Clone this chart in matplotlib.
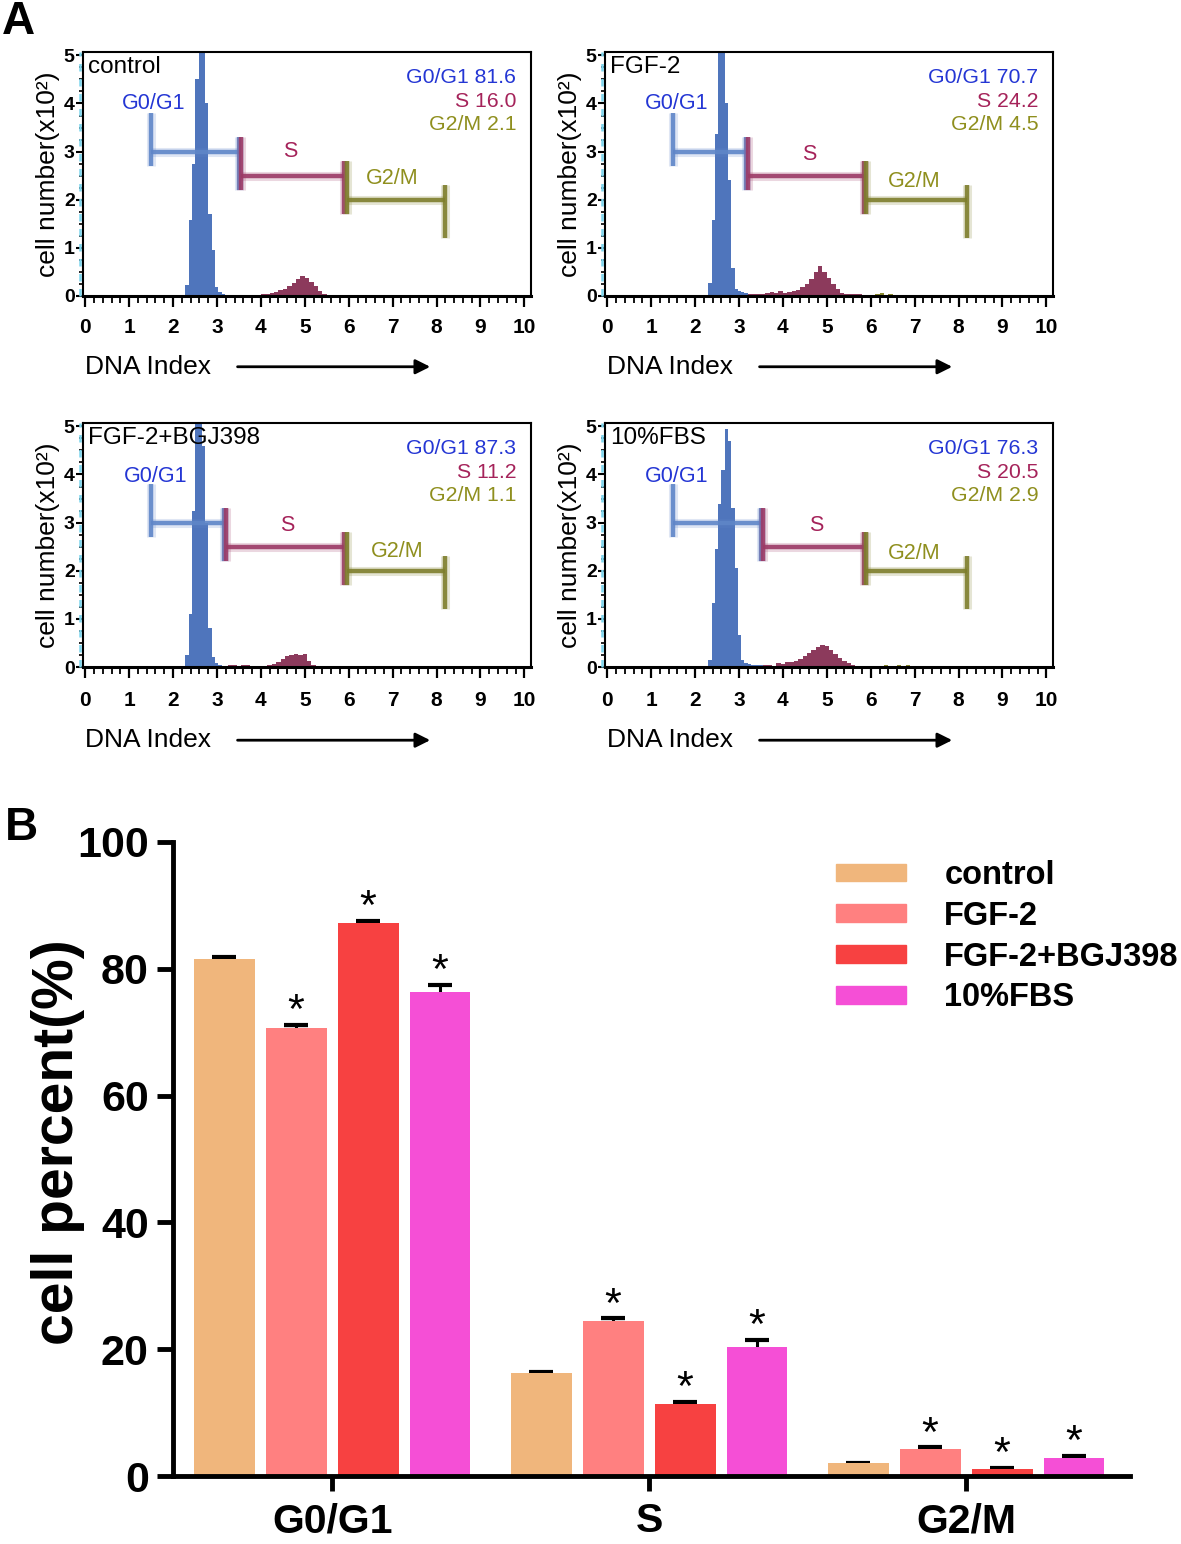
import numpy as np
import matplotlib
matplotlib.use('Agg')
import matplotlib.pyplot as plt
from matplotlib.ticker import MultipleLocator
from matplotlib.patches import Patch

plt.rcParams['font.family'] = ['Liberation Sans', 'DejaVu Sans']

# ---------------- data: panel A (DNA histograms) ----------------
panel_names = ['control', 'FGF-2', 'FGF-2+BGJ398', '10%FBS']
g1_pct = [81.6, 70.7, 87.3, 76.3]
s_pct = [16.0, 24.2, 11.2, 20.5]
g2m_pct = [2.1, 4.5, 1.1, 2.9]

# G0/G1 peak counts (x10^2), bins of 0.075 DNA index
g1_start = [2.28, 2.30, 2.28, 2.30]
g1_counts_control = [0.23, 1.57, 2.75, 4.5, 5.3, 5.3, 4.0, 1.7, 0.95, 0.19, 0.08, 0.04, 0.03, 0.03, 0.02, 0.03]
g1_counts_fgf2 = [0.27, 1.57, 3.37, 5.3, 5.3, 4.0, 2.4, 0.58, 0.15, 0.1, 0.08, 0.06]
g1_counts_bgj = [0.25, 1.1, 3.25, 5.3, 5.3, 4.6, 3.0, 0.8, 0.2, 0.08, 0.05, 0.03]
g1_counts_fbs = [0.15, 1.34, 2.46, 3.38, 4.1, 4.94, 4.7, 3.3, 2.06, 0.66, 0.15, 0.08, 0.06, 0.05, 0.05, 0.04, 0.04]

# S phase counts, bins of 0.1
s_start = [3.5, 3.2, 3.25, 3.55]
s_counts_control = [0.03, 0.03, 0.0, 0.0, 0.03, 0.04, 0.05, 0.06, 0.08, 0.12, 0.15, 0.2, 0.28, 0.36, 0.42, 0.38, 0.3, 0.2, 0.1, 0.04, 0.01]
s_counts_fgf2 = [0.05, 0.05, 0.04, 0.05, 0.06, 0.08, 0.06, 0.1, 0.06, 0.08, 0.1, 0.13, 0.18, 0.25, 0.35, 0.5, 0.62, 0.5, 0.38, 0.25, 0.15, 0.07, 0.04, 0.04, 0.04, 0.04, 0.03]
s_counts_bgj = [0.04, 0.04, 0.0, 0.04, 0.04, 0.0, 0.0, 0.0, 0.02, 0.04, 0.06, 0.1, 0.16, 0.22, 0.25, 0.27, 0.25, 0.28, 0.12, 0.05, 0.02]
s_counts_fbs = [0.04, 0.05, 0.03, 0.08, 0.06, 0.1, 0.1, 0.12, 0.16, 0.22, 0.3, 0.36, 0.42, 0.46, 0.44, 0.36, 0.26, 0.18, 0.12, 0.08, 0.05, 0.03]

# G2/M counts, bins of 0.1 from 5.9
g2m_counts_control = [0.01, 0.01]
g2m_counts_fgf2 = [0.03, 0.0, 0.05, 0.06, 0.03, 0.04, 0.0, 0.03, 0.0, 0.02, 0.0, 0.0, 0.0, 0.0, 0.02]
g2m_counts_bgj = [0.0]
g2m_counts_fbs = [0.02, 0.0, 0.03, 0.0, 0.04, 0.0, 0.03, 0.04, 0.02, 0.05, 0.03, 0.0, 0.02]

# gate ranges (DNA index)
g1_gate = [(1.5, 3.5), (1.5, 3.15), (1.5, 3.15), (1.5, 3.5)]
s_gate = [(3.55, 5.9), (3.2, 5.85), (3.2, 5.9), (3.55, 5.85)]
g2m_gate = [(5.95, 8.2), (5.9, 8.2), (5.95, 8.2), (5.9, 8.2)]

# ---------------- data: panel B (bar chart) ----------------
phases = ['G0/G1', 'S', 'G2/M']
groups = ['control', 'FGF-2', 'FGF-2+BGJ398', '10%FBS']
control_pct = [81.6, 16.2, 2.0]
fgf2_pct = [70.7, 24.5, 4.3]
bgj_pct = [87.3, 11.4, 1.1]
fbs_pct = [76.3, 20.4, 2.9]
control_err = [0.25, 0.2, 0.1]
fgf2_err = [0.4, 0.35, 0.2]
bgj_err = [0.3, 0.3, 0.2]
fbs_err = [1.2, 1.0, 0.3]
significant = [False, True, True, True]

# ---------------- figure ----------------
W, H = 1181, 1544
fig = plt.figure(figsize=(W / 100, H / 100), dpi=100)


def px_axes(l, t, r, b):
    return fig.add_axes([l / W, 1 - b / H, (r - l) / W, (b - t) / H])


blue = '#4F75BC'
maroon = '#8C3A5C'
olive = '#8A8A2E'
gate_blue = '#5F86C8'
gate_maroon = '#9C3A66'
gate_olive = '#7E7E2C'
txt_blue = '#2436D4'
txt_maroon = '#A5235A'
txt_olive = '#8F8F1E'

panel_boxes = [(83, 52, 531, 296), (605, 52, 1053, 296),
               (83, 423, 531, 667), (605, 423, 1053, 667)]
g1_all = [g1_counts_control, g1_counts_fgf2, g1_counts_bgj, g1_counts_fbs]
s_all = [s_counts_control, s_counts_fgf2, s_counts_bgj, s_counts_fbs]
g2m_all = [g2m_counts_control, g2m_counts_fgf2, g2m_counts_bgj, g2m_counts_fbs]

# label positions (data coords) for gate names
g1_lab = [(1.55, 4.0), (1.59, 4.0), (1.6, 3.95), (1.57, 3.95)]
s_lab = [(4.66, 3.0), (4.6, 2.95), (4.6, 2.93), (4.75, 2.93)]
g2m_lab = [(7.0, 2.44), (7.0, 2.38), (7.1, 2.4), (7.0, 2.36)]


def draw_gate(ax, x0, x1, lvl, color):
    for lw, al in [(6.5, 0.2), (3.2, 0.9)]:
        ax.plot([x0, x1], [lvl, lvl], color=color, lw=lw, alpha=al, solid_capstyle='butt')
        ax.plot([x0, x0], [lvl - 0.3, lvl + 0.8], color=color, lw=lw, alpha=al, solid_capstyle='butt')
        ax.plot([x1, x1], [lvl - 0.8, lvl + 0.3], color=color, lw=lw, alpha=al, solid_capstyle='butt')


for i in range(4):
    ax = px_axes(*panel_boxes[i])
    edges = g1_start[i] + 0.075 * np.arange(len(g1_all[i]) + 1)
    ax.stairs(g1_all[i], edges, fill=True, color=blue)
    edges = s_start[i] + 0.1 * np.arange(len(s_all[i]) + 1)
    ax.stairs(s_all[i], edges, fill=True, color=maroon)
    edges = 5.9 + 0.1 * np.arange(len(g2m_all[i]) + 1)
    ax.stairs(g2m_all[i], edges, fill=True, color=olive)

    draw_gate(ax, g1_gate[i][0], g1_gate[i][1], 3.0, gate_blue)
    draw_gate(ax, s_gate[i][0], s_gate[i][1], 2.5, gate_maroon)
    draw_gate(ax, g2m_gate[i][0], g2m_gate[i][1], 2.0, gate_olive)

    ax.text(*g1_lab[i], 'G0/G1', color=txt_blue, fontsize=15.5, ha='center', va='center')
    ax.text(*s_lab[i], 'S', color=txt_maroon, fontsize=15.5, ha='center', va='center')
    ax.text(*g2m_lab[i], 'G2/M', color=txt_olive, fontsize=15.5, ha='center', va='center')

    ax.text(0.012, 0.985, panel_names[i], transform=ax.transAxes, fontsize=17.5,
            ha='left', va='top')
    ax.text(0.967, 0.895, f'G0/G1 {g1_pct[i]:.1f}', transform=ax.transAxes,
            color=txt_blue, fontsize=15.3, ha='right', va='center')
    ax.text(0.967, 0.797, f'S {s_pct[i]:.1f}', transform=ax.transAxes,
            color=txt_maroon, fontsize=15.3, ha='right', va='center')
    ax.text(0.967, 0.702, f'G2/M {g2m_pct[i]:.1f}', transform=ax.transAxes,
            color=txt_olive, fontsize=15.3, ha='right', va='center')

    ax.set_xlim(-0.05, 10.15)
    ax.set_ylim(0, 5.07)
    ax.xaxis.set_major_locator(MultipleLocator(1))
    ax.xaxis.set_minor_locator(MultipleLocator(0.2))
    ax.yaxis.set_major_locator(MultipleLocator(1))
    ax.yaxis.set_minor_locator(MultipleLocator(0.25))
    for sp in ax.spines.values():
        sp.set_linewidth(1.5)
    ax.spines['bottom'].set_linewidth(2.2)
    ax.tick_params(axis='x', which='major', direction='out', length=8, width=1.6,
                   pad=7.5 if i < 2 else 9.5)
    ax.tick_params(axis='x', which='minor', direction='out', length=5, width=1.3)
    ax.tick_params(axis='y', which='major', direction='out', length=5, width=1.5, pad=1)
    ax.tick_params(axis='y', which='minor', direction='out', length=3, width=1.2)
    for lab in ax.get_xticklabels():
        lab.set_fontsize(15)
        lab.set_fontweight('bold')
    for lab in ax.get_yticklabels():
        lab.set_fontsize(14)
        lab.set_fontweight('bold')
    ax.set_ylabel('cell number(x10²)', fontsize=19)
    ax.yaxis.set_label_coords(-0.052, 0.5)

    # scan artefact: light cyan dashes left of the y axis
    ax.plot([-0.007, -0.007], [0, 1], transform=ax.transAxes, clip_on=False,
            color='#7FD6EE', lw=1.8, dashes=(3, 3))

    ya = -0.29 if i < 2 else -0.30
    ax.text(0.005, ya, 'DNA Index', transform=ax.transAxes,
            fontsize=19, ha='left', va='center')
    ax.annotate('', xy=(0.775, ya), xytext=(0.345, ya),
                xycoords='axes fraction', textcoords='axes fraction',
                arrowprops=dict(arrowstyle='-|>', color='black', lw=2,
                                mutation_scale=22, shrinkA=0, shrinkB=0))

# ---------------- panel B ----------------
axb = px_axes(173, 842, 1130, 1476)
bar_vals = [control_pct, fgf2_pct, bgj_pct, fbs_pct]
bar_errs = [control_err, fgf2_err, bgj_err, fbs_err]
bar_cols = ['#F0B67C', '#FF8080', '#F74141', '#F54FD6']
pitch = 0.227
bw = 0.192
x = np.arange(len(phases))
for j in range(4):
    xs = x + (j - 1.5) * pitch
    axb.bar(xs, bar_vals[j], width=bw, color=bar_cols[j], label=groups[j], zorder=2)
    axb.errorbar(xs, bar_vals[j], yerr=bar_errs[j], fmt='none',
                 ecolor='black', elinewidth=2.2, capsize=8.5, capthick=3, zorder=1)
    if significant[j]:
        for k in range(3):
            axb.text(xs[k], bar_vals[j][k] + bar_errs[j][k] + 0.3, '*',
                     fontsize=31, ha='center', va='baseline')

axb.set_xlim(-0.502, 2.517)
axb.set_ylim(0, 100)
axb.set_xticks(x)
axb.set_xticklabels(phases, fontsize=29.5, fontweight='bold')
axb.set_yticks([0, 20, 40, 60, 80, 100])
axb.set_yticklabels(['0', '20', '40', '60', '80', '100'], fontsize=31, fontweight='bold')
axb.spines['top'].set_visible(False)
axb.spines['right'].set_visible(False)
axb.spines['left'].set_linewidth(3.5)
axb.spines['bottom'].set_linewidth(3.5)
axb.tick_params(axis='y', direction='out', length=11.5, width=3.5, pad=6)
axb.tick_params(axis='x', direction='out', length=11, width=3.5, pad=8)
axb.set_ylabel('cell percent(%)', fontsize=41, fontweight='bold')
axb.yaxis.set_label_coords(-0.092, 0.527)

handles = [Patch(color=c) for c in bar_cols]
leg = axb.legend(handles, groups, loc='upper left', bbox_to_anchor=(836 / W, 1 - 860 / H),
                 bbox_transform=fig.transFigure, frameon=False, borderpad=0,
                 borderaxespad=0, handlelength=2.15, handleheight=0.46,
                 handletextpad=1.17, labelspacing=0.3,
                 prop={'size': 23.5, 'weight': 'bold'})

fig.text(2 / W, 1 - 22 / H, 'A', fontsize=33, fontweight='bold', ha='left', va='center')
fig.text(5 / W, 1 - 828 / H, 'B', fontsize=33, fontweight='bold', ha='left', va='center')

fig.savefig('out.png', dpi=100)
